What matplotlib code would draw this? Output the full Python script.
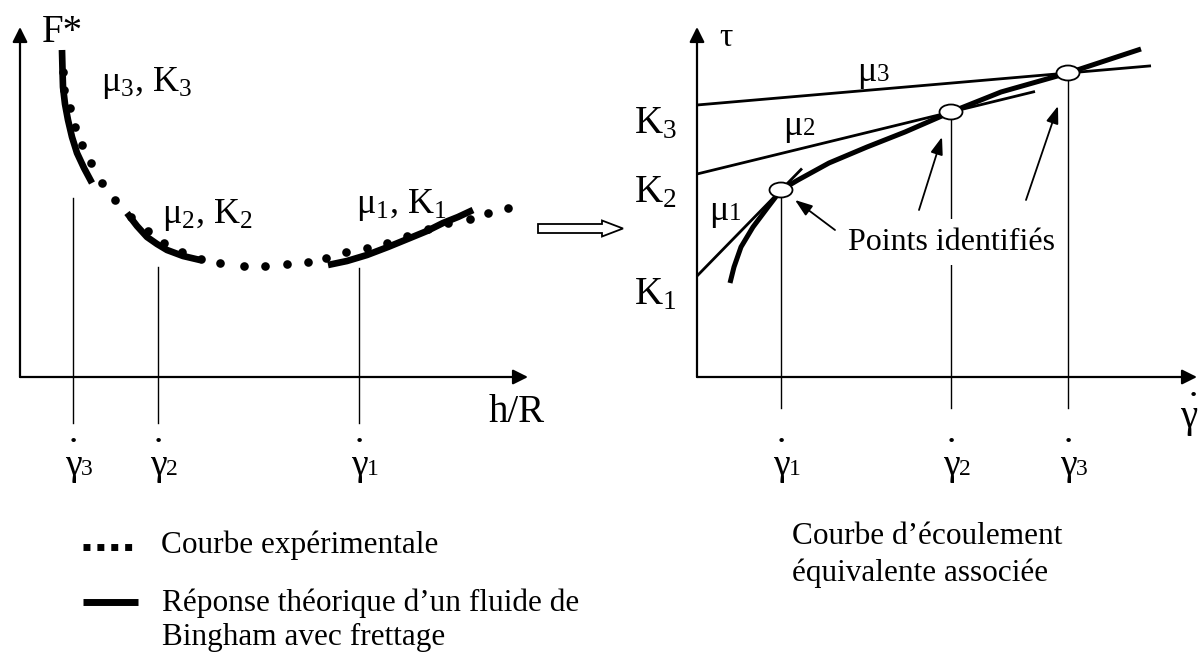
import matplotlib
matplotlib.use("Agg")
import matplotlib.pyplot as plt
from matplotlib.patches import FancyArrow, Ellipse

plt.rcParams['font.family'] = ['Liberation Serif', 'DejaVu Serif']
plt.rcParams['mathtext.fontset'] = 'custom'
plt.rcParams['mathtext.rm'] = 'Liberation Serif'
plt.rcParams['mathtext.it'] = 'Liberation Serif'

# ---------------- data (left panel: F* vs h/R) ----------------
exp_x = [43, 44, 50, 55, 62, 71, 82, 95, 111, 128, 144, 162, 181, 200, 224, 245,
         267, 288, 306, 326, 347, 367, 387, 408, 428, 450, 468, 488]
exp_y = [305, 287, 269, 250, 232, 214, 194, 177, 160, 146, 134, 125, 118, 114, 111, 111,
         113, 115, 119, 125, 129, 134, 141, 148, 154, 158, 164, 169]

th3_x = [42, 42.5, 43, 45, 48, 52, 57, 64, 72]
th3_y = [327, 307, 290, 273, 257, 240, 224, 209, 194]
th2_x = [107, 117, 127, 137, 147, 163, 180]
th2_y = [164, 151, 140, 133, 127, 121, 117]
th1_x = [308, 327, 347, 368, 390, 407, 423, 438, 453]
th1_y = [112, 116, 122, 130, 139, 146, 154, 160, 167]

gam_left = [53, 138, 339]          # positions of gamma3, gamma2, gamma1 on h/R axis
gam_left_top = [179, 110, 109]
gam_left_names = ['3', '2', '1']

# ---------------- data (right panel: tau vs gamma dot) ----------------
flow_x = [33, 37, 44, 56, 71, 84, 101, 132, 170, 208, 254, 304, 371, 444]
flow_y = [94, 110, 130, 150, 170, 187, 197, 214, 230, 245, 265, 285, 304, 328]

pts_gamma = [84, 254, 371]         # identified points
pts_tau = [187, 265, 304]
K_vals = [101, 203, 272]           # yield stresses K1, K2, K3
tan_end = [105, 338, 454]          # extent of tangent lines

W, H = 1198, 655
fig = plt.figure(figsize=(W / 100, H / 100), dpi=100)

axl = fig.add_axes([20 / W, (H - 377) / H, 580 / W, 377 / H])
axl.set_xlim(0, 580); axl.set_ylim(0, 377); axl.axis('off')
axr = fig.add_axes([697 / W, (H - 377) / H, 501 / W, 377 / H])
axr.set_xlim(0, 501); axr.set_ylim(0, 377); axr.axis('off')

def axis_arrow(ax, x0, y0, x1, y1):
    ax.annotate('', xy=(x1, y1), xytext=(x0, y0),
                arrowprops=dict(arrowstyle='-|>,head_length=0.6,head_width=0.3',
                                mutation_scale=15, color='black', lw=1.6,
                                shrinkA=0, shrinkB=0), annotation_clip=False)

def gamma_label(ax, x, y, d, fs=27, dfs=17):
    ax.text(x, y, 'γ', fontsize=fs, ha='center', va='baseline', clip_on=False)
    ax.annotate(d, (x, y), xytext=(fs * 0.22, 0), textcoords='offset points',
                fontsize=dfs, ha='left', va='baseline', annotation_clip=False)
    ax.text(x, y + 33, '·', fontsize=20, ha='center', va='center', clip_on=False,
            fontweight='bold')

# ---------- left panel ----------
axis_arrow(axl, 0, 0, 508, 0)
axis_arrow(axl, 0, 0, 0, 350)
axl.text(42, 345, 'F*', fontsize=28, ha='center', va='center')
axl.text(497, -36, 'h/R', fontsize=28, ha='center', va='center', clip_on=False)

for x, top, nm in zip(gam_left, gam_left_top, gam_left_names):
    axl.plot([x, x], [top, -46], color='black', lw=1.0, clip_on=False)
    gamma_label(axl, x, -98, nm)

axl.plot(exp_x, exp_y, 'o', color='black', ms=6.2, mec='none', clip_on=False)
for tx, ty in [(th3_x, th3_y), (th2_x, th2_y), (th1_x, th1_y)]:
    axl.plot(tx, ty, color='black', lw=4.8, solid_capstyle='butt', clip_on=False)

axl.text(127, 294, 'μ$_3$, K$_3$', fontsize=26, ha='center', va='center')
axl.text(187, 162, 'μ$_2$, K$_2$', fontsize=26, ha='center', va='center')
axl.text(381, 172, 'μ$_1$, K$_1$', fontsize=26, ha='center', va='center')

# hollow arrow between panels
axl.add_patch(FancyArrow(518, 148.5, 85, 0, width=9, head_width=16, head_length=21,
                         length_includes_head=True, fc='white', ec='black', lw=1.3,
                         clip_on=False))

# legend
axl.plot([63, 118], [-170, -170], color='black', lw=5, linestyle=(0, (1, 1)),
         solid_capstyle='butt', dash_capstyle='butt', clip_on=False)
axl.plot([63, 118], [-225, -225], color='black', lw=5, solid_capstyle='butt',
         clip_on=False)
axl.text(141, -168, 'Courbe expérimentale', fontsize=22.5, ha='left', va='center',
         clip_on=False)
axl.text(142, -226, "Réponse théorique d\u2019un fluide de", fontsize=22.5, ha='left',
         va='center', clip_on=False)
axl.text(142, -260, 'Bingham avec frettage', fontsize=22.5, ha='left', va='center',
         clip_on=False)

# ---------- right panel ----------
axis_arrow(axr, 0, 0, 500, 0)
axis_arrow(axr, 0, 0, 0, 350)
axr.text(29, 339, 'τ', fontsize=24, ha='center', va='center')

for K, gx, gy, xe in zip(K_vals, pts_gamma, pts_tau, tan_end):
    slope = (gy - K) / gx
    axr.plot([0, xe], [K, K + slope * xe], color='black', lw=2.0,
             solid_capstyle='butt', clip_on=False)

axr.plot(flow_x, flow_y, color='black', lw=3.6, solid_capstyle='butt',
         solid_joinstyle='round', clip_on=False)

for i, (gx, gy) in enumerate(zip(pts_gamma, pts_tau)):
    axr.plot([gx, gx], [gy, -31], color='black', lw=1.0, clip_on=False, zorder=1)
    axr.add_patch(Ellipse((gx, gy), 23, 15, fc='white', ec='black', lw=1.3, zorder=5,
                          clip_on=False))
    gamma_label(axr, gx, -98, str(i + 1))

axr.text(254, 135, 'Points identifiés', fontsize=23, ha='center', va='center', zorder=3,
         bbox=dict(fc='white', ec='none', pad=6))

for (x0, y0), (x1, y1) in [((138, 147), (98, 177)), ((222, 167), (245, 240)),
                           ((329, 177), (361, 271))]:
    axr.annotate('', xy=(x1, y1), xytext=(x0, y0),
                 arrowprops=dict(arrowstyle='-|>,head_length=0.7,head_width=0.25',
                                 mutation_scale=15, color='black', lw=1.3,
                                 shrinkA=0, shrinkB=0), zorder=4)

for K, nm in zip(K_vals, ['1', '2', '3']):
    axr.text(-42, K - 19, 'K$_' + nm + '$', fontsize=28, ha='center', va='center',
             clip_on=False)

for (mx, my), nm in zip([(32, 165), (106, 250), (180, 304)], ['1', '2', '3']):
    axr.text(mx, my - 8, 'μ', fontsize=26, ha='right', va='baseline', clip_on=False)
    axr.text(mx, my - 8, nm, fontsize=18, ha='left', va='baseline', clip_on=False)

axr.text(483, -50, 'γ', fontsize=28, ha='left', va='baseline', clip_on=False)
axr.text(496, -20, '·', fontsize=20, ha='center', va='center', fontweight='bold',
         clip_on=False)

fig.text(792 / W, 1 - 537 / H, "Courbe d\u2019écoulement", fontsize=22.5, ha='left',
         va='center')
fig.text(792 / W, 1 - 573 / H, 'équivalente associée', fontsize=22.5, ha='left',
         va='center')

fig.savefig('out.png', dpi=100, facecolor='white')
